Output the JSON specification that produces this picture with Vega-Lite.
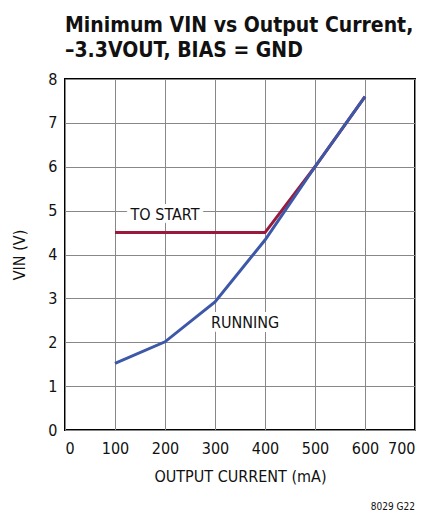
{
  "$schema": "https://vega.github.io/schema/vega-lite/v6.json",
  "width": 350,
  "height": 351,
  "autosize": "none",
  "padding": {"left": 65, "top": 79, "right": 14, "bottom": 87},
  "background": "white",
  "title": {
    "text": ["Minimum VIN vs Output Current,", "–3.3VOUT, BIAS = GND"],
    "anchor": "start",
    "frame": "group",
    "font": "DejaVu Sans Condensed, Roboto, sans-serif",
    "fontSize": 21,
    "fontWeight": "bold",
    "lineHeight": 25,
    "color": "#111",
    "offset": 10
  },
  "config": {
    "view": {"stroke": "#000", "strokeWidth": 2},
    "axis": {
      "labelFont": "DejaVu Sans Condensed, Roboto, sans-serif",
      "titleFont": "DejaVu Sans Condensed, Roboto, sans-serif",
      "labelFontSize": 16,
      "titleFontSize": 16,
      "labelColor": "#111",
      "titleColor": "#111",
      "titleFontWeight": "normal",
      "gridColor": "#888",
      "gridWidth": 1,
      "gridOpacity": 1,
      "domain": false,
      "ticks": false
    }
  },
  "datasets": {
    "curves": [
      {"current": 100, "vin": 4.5, "series": "TO START"},
      {"current": 200, "vin": 4.5, "series": "TO START"},
      {"current": 300, "vin": 4.5, "series": "TO START"},
      {"current": 400, "vin": 4.5, "series": "TO START"},
      {"current": 500, "vin": 6.0, "series": "TO START"},
      {"current": 600, "vin": 7.6, "series": "TO START"},
      {"current": 100, "vin": 1.52, "series": "RUNNING"},
      {"current": 200, "vin": 2.01, "series": "RUNNING"},
      {"current": 300, "vin": 2.92, "series": "RUNNING"},
      {"current": 400, "vin": 4.33, "series": "RUNNING"},
      {"current": 500, "vin": 6.0, "series": "RUNNING"},
      {"current": 600, "vin": 7.6, "series": "RUNNING"}
    ],
    "labels": [
      {"current": 200, "vin": 4.9, "label": "TO START"},
      {"current": 360, "vin": 2.44, "label": "RUNNING"}
    ],
    "note": [
      {"current": 700, "vin": -1.75, "label": "8029 G22"}
    ]
  },
  "layer": [
    {
      "data": {"name": "curves"},
      "mark": {"type": "line", "strokeWidth": 3},
      "encoding": {
        "x": {
          "field": "current", "type": "quantitative",
          "scale": {"domain": [0, 700], "nice": false},
          "axis": {"values": [0, 100, 200, 300, 400, 500, 600, 700], "title": "OUTPUT CURRENT (mA)", "labelPadding": 10, "titlePadding": 12}
        },
        "y": {
          "field": "vin", "type": "quantitative",
          "scale": {"domain": [0, 8], "nice": false},
          "axis": {"values": [0, 1, 2, 3, 4, 5, 6, 7, 8], "title": "VIN (V)", "labelPadding": 8, "titlePadding": 20}
        },
        "color": {
          "field": "series", "type": "nominal",
          "scale": {"domain": ["TO START", "RUNNING"], "range": ["#9a1a3e", "#3d58a8"]},
          "legend": null
        },
        "order": {"field": "current"}
      }
    },
    {
      "data": {"name": "labels"},
      "mark": {"type": "text", "font": "DejaVu Sans Condensed, Roboto, sans-serif", "fontSize": 16, "stroke": "white", "strokeWidth": 8, "strokeJoin": "round", "color": "white"},
      "encoding": {
        "x": {"field": "current", "type": "quantitative"},
        "y": {"field": "vin", "type": "quantitative"},
        "text": {"field": "label"}
      }
    },
    {
      "data": {"name": "labels"},
      "mark": {"type": "text", "font": "DejaVu Sans Condensed, Roboto, sans-serif", "fontSize": 16, "color": "#111"},
      "encoding": {
        "x": {"field": "current", "type": "quantitative"},
        "y": {"field": "vin", "type": "quantitative"},
        "text": {"field": "label"}
      }
    },
    {
      "data": {"name": "note"},
      "mark": {"type": "text", "font": "DejaVu Sans Condensed, Roboto, sans-serif", "fontSize": 10, "color": "#111", "align": "right", "clip": false},
      "encoding": {
        "x": {"field": "current", "type": "quantitative"},
        "y": {"field": "vin", "type": "quantitative"},
        "text": {"field": "label"}
      }
    }
  ]
}
